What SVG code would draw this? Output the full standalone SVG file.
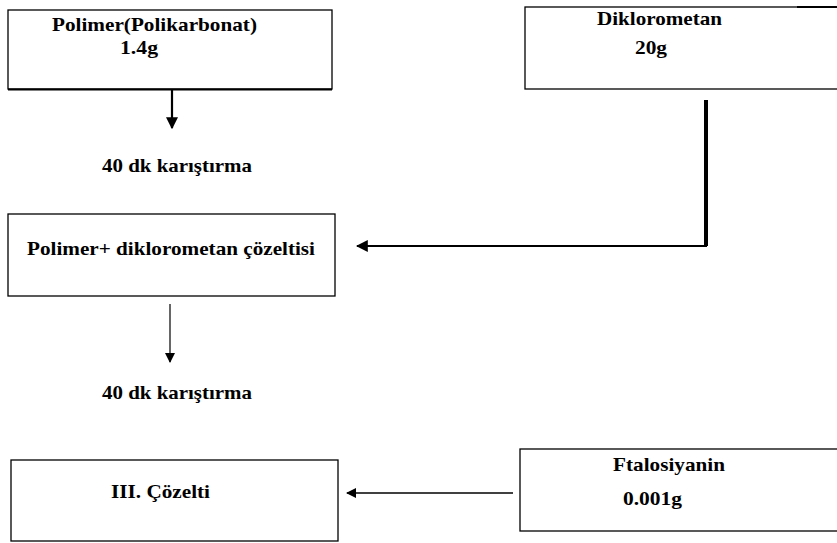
<svg xmlns="http://www.w3.org/2000/svg" width="837" height="543" viewBox="0 0 837 543">
<defs>
<style>
.box{fill:#fff;stroke:#000;stroke-width:1.3}
.t{font-family:"Liberation Serif","Times New Roman",serif;font-weight:bold;font-size:19px;fill:#000}
.ln{stroke:#000;fill:none}
</style>
<marker id="ah" viewBox="0 0 10 10" refX="9" refY="5" markerWidth="10" markerHeight="10" markerUnits="userSpaceOnUse" orient="auto">
<path d="M0,0 L10,5 L0,10 Z" fill="#000"/>
</marker>
<marker id="ahs" viewBox="0 0 10 10" refX="9" refY="5" markerWidth="12" markerHeight="12" markerUnits="userSpaceOnUse" orient="auto">
<path d="M0,0 L10,5 L0,10 Z" fill="#000"/>
</marker>
</defs>
<rect width="837" height="543" fill="#fff"/>
<g id="node-polimer">
<rect class="box" x="8" y="10" width="324" height="79"/>
<line class="ln" x1="8" y1="89.5" x2="332" y2="89.5" stroke-width="2"/>
<text class="t" x="52" y="31" textLength="205" lengthAdjust="spacingAndGlyphs">Polimer(Polikarbonat)</text>
<text class="t" x="120" y="54" textLength="38" lengthAdjust="spacingAndGlyphs">1.4g</text>
</g>
<g id="node-diklorometan">
<rect class="box" x="525" y="7" width="320" height="82"/>
<line class="ln" x1="797" y1="7" x2="837" y2="7" stroke-width="2"/>
<text class="t" x="597" y="25" textLength="125" lengthAdjust="spacingAndGlyphs">Diklorometan</text>
<text class="t" x="635" y="54" textLength="32" lengthAdjust="spacingAndGlyphs">20g</text>
</g>
<g id="label-1">
<text class="t" x="102" y="172" textLength="150" lengthAdjust="spacingAndGlyphs">40 dk karıştırma</text>
</g>
<g id="node-cozelti">
<rect class="box" x="8" y="214" width="327" height="82"/>
<text class="t" x="27" y="255" textLength="288" lengthAdjust="spacingAndGlyphs">Polimer+ diklorometan çözeltisi</text>
</g>
<g id="label-2">
<text class="t" x="102" y="399" textLength="150" lengthAdjust="spacingAndGlyphs">40 dk karıştırma</text>
</g>
<g id="node-iii">
<rect class="box" x="11" y="460" width="327" height="81"/>
<text class="t" x="111" y="498" textLength="99" lengthAdjust="spacingAndGlyphs">III. Çözelti</text>
</g>
<g id="node-ftalosiyanin">
<rect class="box" x="520" y="449" width="325" height="82"/>
<text class="t" x="613" y="471" textLength="112" lengthAdjust="spacingAndGlyphs">Ftalosiyanin</text>
<text class="t" x="623" y="505" textLength="59" lengthAdjust="spacingAndGlyphs">0.001g</text>
</g>
<g id="connectors">
<line class="ln" x1="172" y1="90" x2="172" y2="128" stroke-width="2.2" marker-end="url(#ahs)"/>
<polyline class="ln" points="706,100 706,246 357,246" stroke-width="2" marker-end="url(#ahs)"/>
<line class="ln" x1="706" y1="100" x2="706" y2="246" stroke-width="4"/>
<line class="ln" x1="170" y1="304" x2="170" y2="362" stroke-width="1.2" marker-end="url(#ah)"/>
<line class="ln" x1="513" y1="493" x2="347" y2="493" stroke-width="1.3" marker-end="url(#ah)"/>
</g>
</svg>
